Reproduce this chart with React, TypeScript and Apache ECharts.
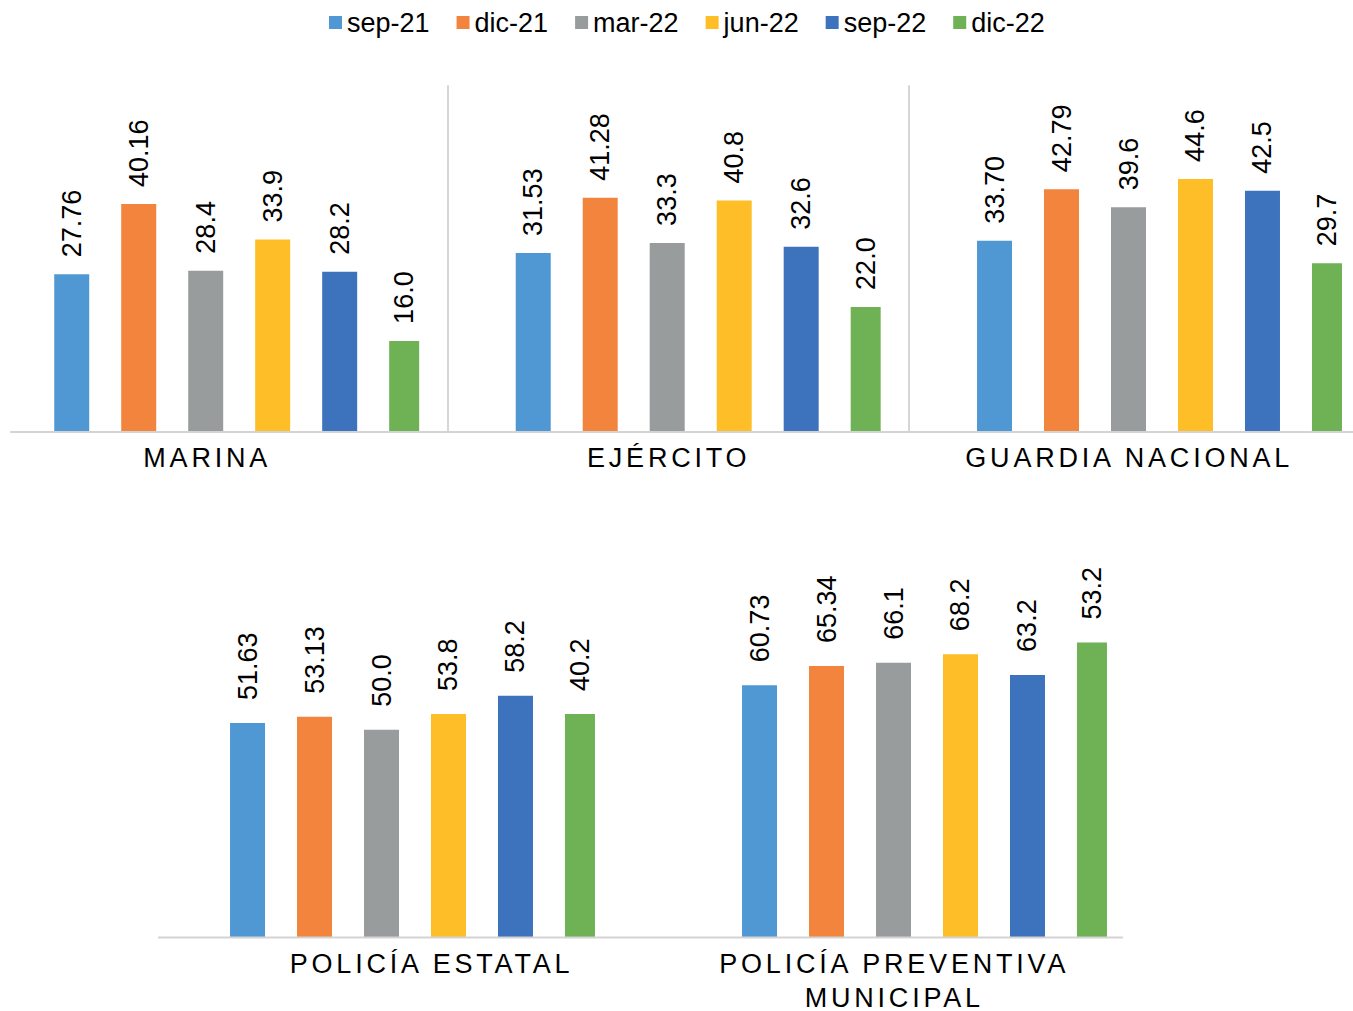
import React, { useEffect, useRef } from 'react';
import * as echarts from 'echarts';

// ---------- data ----------
const periods = ['sep-21', 'dic-21', 'mar-22', 'jun-22', 'sep-22', 'dic-22'];
const institutions = ['MARINA', 'EJÉRCITO', 'GUARDIA NACIONAL', 'POLICÍA ESTATAL', 'POLICÍA PREVENTIVA\nMUNICIPAL'];

const sep21 = [27.76, 31.53, 33.7, 51.63, 60.73];
const dic21 = [40.16, 41.28, 42.79, 53.13, 65.34];
const mar22 = [28.4, 33.3, 39.6, 50.0, 66.1];
const jun22 = [33.9, 40.8, 44.6, 53.8, 68.2];
const sep22 = [28.2, 32.6, 42.5, 58.2, 63.2];
// dic-22: bar heights as drawn in the picture, and the numbers printed on the bars
const dic22 = [16.0, 22.0, 29.7, 53.8, 71.0];
const dic22Labels = [16.0, 22.0, 29.7, 40.2, 53.2];

const seriesValues = [sep21, dic21, mar22, jun22, sep22, dic22];
const seriesLabels = [sep21, dic21, mar22, jun22, sep22, dic22Labels];
const labelDecimals = [2, 2, 1, 1, 1, 1];
const colors = ['#5098D3', '#F2843E', '#999C9C', '#FDBE28', '#3D73BC', '#6EB255'];

// ---------- layout (positions / styles) ----------
const FONT = "'Liberation Sans', Arial, Helvetica, sans-serif";
const panels = [
  { left: 11, width: 451.4, top: 86, height: 345.5, max: 61, sep: false, axisLine: true, pad: [0, 59, 0, 0], dist: 17 },
  { left: 448, width: 500.4, top: 86, height: 345.5, max: 61, sep: true, axisLine: true, pad: [0, 59, 0, 0], dist: 17 },
  { left: 909, width: 501, top: 86, height: 345.5, max: 61, sep: true, axisLine: true, pad: [0, 60.5, 0, 0], dist: 17 },
  { left: 158, width: 509, top: 522, height: 415.5, max: 100, sep: false, axisLine: false, pad: [0, 0, 0, 38], dist: 23 },
  { left: 726, width: 397, top: 522, height: 415.5, max: 100, sep: false, axisLine: false, pad: [0, 60.5, 0, 0], dist: 23 },
];
const AXIS_COLOR = '#d3d3d3';

export default function App() {
  const ref = useRef<HTMLDivElement>(null);

  useEffect(() => {
    if (!ref.current) return;
    const el = ref.current;
    const chart = echarts.init(el, undefined, { renderer: 'svg' });

    const grid = panels.map((p) => ({
      left: p.left,
      width: p.width,
      top: p.top,
      height: p.height,
      containLabel: false,
      outerBoundsMode: 'none',
    }));

    const xAxis = panels.map((p, i) => ({
      type: 'category',
      gridIndex: i,
      data: [institutions[i]],
      z: 10,
      axisTick: { show: false },
      axisLine: { show: p.axisLine, lineStyle: { color: AXIS_COLOR, width: 2 } },
      axisLabel: {
        interval: 0,
        fontSize: 27,
        lineHeight: 34,
        color: '#000',
        fontFamily: FONT,
        margin: 9,
        padding: p.pad,
      },
    }));

    const yAxis = panels.map((p, i) => ({
      type: 'value',
      gridIndex: i,
      min: 0,
      max: p.max,
      axisLine: { show: p.sep, lineStyle: { color: '#d6d6d6', width: 2 } },
      axisTick: { show: false },
      axisLabel: { show: false },
      splitLine: { show: false },
    }));

    const series: any[] = [];
    panels.forEach((p, pi) => {
      periods.forEach((name, si) => {
        series.push({
          type: 'bar',
          name,
          xAxisIndex: pi,
          yAxisIndex: pi,
          data: [seriesValues[si][pi]],
          barWidth: si === 5 ? 30 : 35,
          barGap: '91.4%',
          itemStyle: { color: colors[si] },
          label: {
            show: true,
            position: 'top',
            rotate: 90,
            align: 'left',
            verticalAlign: 'middle',
            distance: p.dist,
            fontSize: 27,
            color: '#000',
            fontFamily: FONT,
            formatter: () => seriesLabels[si][pi].toFixed(labelDecimals[si]),
          },
        });
      });
    });

    chart.setOption({
      animation: false,
      backgroundColor: '#fff',
      textStyle: { fontFamily: FONT },
      legend: {
        data: periods,
        left: 324,
        top: 4,
        icon: 'rect',
        itemWidth: 13,
        itemHeight: 13,
        itemGap: 27,
        textStyle: { fontSize: 27, color: '#000', fontFamily: FONT },
      },
      grid,
      xAxis,
      yAxis,
      series,
      graphic: [
        {
          type: 'line',
          z: 10,
          shape: { x1: 158, y1: 937.5, x2: 1123, y2: 937.5 },
          style: { stroke: AXIS_COLOR, lineWidth: 2 },
        },
      ],
    });

    const catLines = new Set(institutions.flatMap((s) => s.split('\n')));
    const applySpacing = () => {
      el.querySelectorAll('text').forEach((t) => {
        const txt = (t.textContent || '').trim();
        if (catLines.has(txt)) (t as SVGTextElement).style.letterSpacing = '3.8px';
      });
    };
    applySpacing();
    chart.on('finished', applySpacing);

    return () => {
      chart.dispose();
    };
  }, []);

  return (
    <div
      ref={ref}
      style={{ position: 'absolute', left: 0, top: 0, width: 1353, height: 1011, background: '#fff' }}
    />
  );
}
